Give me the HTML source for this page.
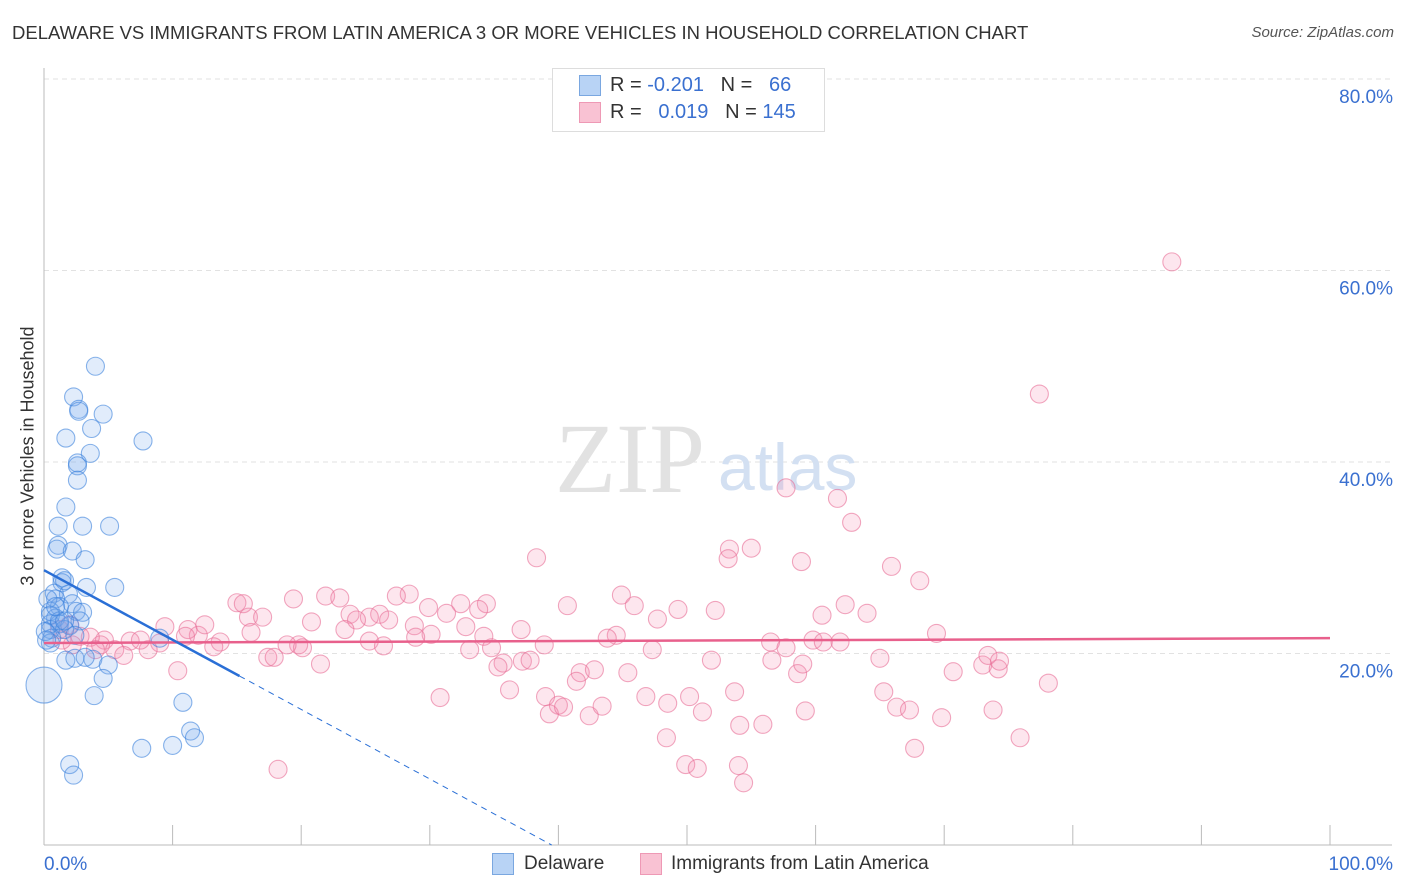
<!DOCTYPE html>
<html><head><meta charset="utf-8">
<style>
body{margin:0;background:#fff;font-family:"Liberation Sans",sans-serif;}
#wrap{position:relative;width:1406px;height:892px;overflow:hidden;}
.t{position:absolute;white-space:nowrap;}
</style></head>
<body>
<div id="wrap">
<div class="t" style="left:12px;top:22px;font-size:18.5px;color:#333;">DELAWARE VS IMMIGRANTS FROM LATIN AMERICA 3 OR MORE VEHICLES IN HOUSEHOLD CORRELATION CHART</div>
<div class="t" style="right:12px;top:24px;font-size:15px;color:#555;font-style:italic;">Source: ZipAtlas.com</div>
<div class="t" style="left:28px;top:456px;font-size:18px;color:#333;transform:translate(-50%,-50%) rotate(-90deg);">3 or more Vehicles in Household</div>
<svg id="plot" width="1406" height="892" style="position:absolute;left:0;top:0"></svg>
</div>
<script>
const yTicks=[20,40,60,80];
const yTickLabels=["20.0%","40.0%","60.0%","80.0%"];
const xTickLabels=["0.0%","100.0%"];
const blueX=[4.0,2.3,2.7,2.7,4.6,3.7,1.7,7.7,3.6,2.6,2.6,2.6,1.7,1.1,3.0,5.1,1.1,1.0,2.2,3.2,1.4,1.4,1.6,3.3,5.5,0.8,1.9,0.9,2.2,2.5,1.2,0.5,3.0,0.9,0.5,1.2,2.0,0.5,1.6,0.6,0.5,2.8,1.7,2.4,3.8,3.2,5.0,4.6,3.9,10.8,11.4,11.7,7.6,10.0,2.0,2.3,0.0,0.3,0.5,1.2,0.1,0.2,9.0,1.6,2.4,0.9];
const blueY=[50.0,46.8,45.5,45.3,45.0,43.5,42.5,42.2,40.9,39.9,39.6,38.1,35.3,33.3,33.3,33.3,31.3,30.9,30.7,29.8,27.9,27.4,27.6,26.9,26.9,26.3,26.2,25.7,25.2,24.4,24.9,24.4,24.3,23.7,23.1,23.1,22.9,22.5,22.5,21.6,21.1,23.4,19.3,19.5,19.4,19.6,18.8,17.4,15.6,14.9,11.9,11.2,10.1,10.4,8.4,7.3,16.7,25.7,24.0,23.4,22.3,21.4,21.6,23.4,21.9,24.9];
const blueR=[9,9,9,9,9,9,9,9,9,9,9,9,9,9,9,9,9,9,9,9,9,9,9,9,9,9,9,9,9,9,9,9,9,9,9,9,9,9,9,9,9,9,9,9,9,9,9,9,9,9,9,9,9,9,9,9,18,9,9,9,9,9,9,9,9,9];
const pinkPx=[[1172,262],[1040,394],[786,488],[837,498],[852,522],[537,558],[729,549],[751,548],[728,559],[801,562],[892,566],[920,581],[621,595],[568,606],[634,606],[487,604],[479,609],[461,604],[845,605],[867,613],[822,615],[715,610],[678,609],[658,619],[237,603],[243,604],[248,617],[262,617],[293,599],[325,596],[340,598],[409,594],[396,596],[380,614],[370,617],[350,614],[356,620],[345,630],[428,608],[446,613],[389,620],[415,626],[431,634],[466,627],[484,636],[416,637],[521,630],[544,645],[616,635],[607,638],[652,650],[936,633],[770,642],[813,640],[823,642],[786,648],[880,658],[712,660],[772,660],[797,674],[628,673],[580,673],[594,670],[576,681],[545,697],[510,690],[522,661],[530,660],[503,663],[498,667],[492,648],[470,650],[370,641],[384,646],[298,645],[303,648],[287,645],[268,657],[274,657],[321,664],[311,622],[251,632],[220,642],[198,635],[214,647],[188,630],[165,627],[185,636],[160,643],[130,641],[105,640],[100,645],[90,637],[80,636],[72,645],[62,640],[115,650],[124,655],[148,650],[178,671],[440,698],[559,705],[549,714],[589,716],[564,707],[602,706],[646,697],[668,703],[690,697],[702,712],[740,725],[763,724],[667,738],[686,765],[697,768],[739,766],[743,783],[805,711],[884,692],[897,707],[910,710],[941,718],[993,710],[953,672],[983,665],[998,669],[988,655],[999,661],[1048,683],[1020,738],[915,748],[278,769],[803,664],[735,692],[840,642],[60,630],[70,625],[95,650],[140,640],[205,625]];
const pinkX=pinkPx.map(p=>+((p[0]-44)/12.86).toFixed(1));
const pinkY=pinkPx.map(p=>+((845-p[1])/9.575).toFixed(1));
const blueTrend=[28.7,-0.727]; const blueSolidEnd=15.2;
const pinkTrend=[21.1,0.005];

const X0=44,X1=1330,Y0=845,PX=(X1-X0)/100,PY=191.5/20;
const xs=v=>X0+v*PX, ys=v=>Y0-v*PY;
const svg=document.getElementById('plot');const NS='http://www.w3.org/2000/svg';
function mk(t,a){const e=document.createElementNS(NS,t);for(const k in a)e.setAttribute(k,a[k]);svg.appendChild(e);return e;}
yTicks.forEach((v,i)=>{
 const g=mk('line',{x1:X0,x2:1392,y1:ys(v),y2:ys(v),stroke:'#e2e2e2','stroke-dasharray':'5,4'});
 
 
 const t=mk('text',{x:1393,y:ys(v)+24,'text-anchor':'end','font-size':19,fill:'#3a70d0','font-family':'Liberation Sans'});t.textContent=yTickLabels[i];
 
 
});
const ax=mk('line',{x1:X0,x2:X0,y1:68,y2:Y0,stroke:'#bbb'});


const bx=mk('line',{x1:X0,x2:1392,y1:Y0,y2:Y0,stroke:'#bbb'});


for(let i=0;i<=10;i++){const l=mk('line',{x1:xs(i*10),x2:xs(i*10),y1:Y0,y2:Y0-20,stroke:'#bbb'});
 
 }
[[0,'start',44],[1,'end',1393]].forEach(([i,a,x])=>{const t=mk('text',{x:x,y:870,'text-anchor':a,'font-size':19,fill:'#3a70d0','font-family':'Liberation Sans'});t.textContent=xTickLabels[i];
 
 });
const w1=mk('text',{x:555,y:492,'font-size':100,fill:'#e2e2e2','font-family':'Liberation Serif'});w1.textContent='ZIP';


const w2=mk('text',{x:718,y:490,'font-size':66,fill:'#d3e0f2','font-family':'Liberation Sans'});w2.textContent='atlas';


pinkX.forEach((x,i)=>{const c=mk('circle',{cx:xs(x),cy:ys(pinkY[i]),r:9,fill:'rgba(244,143,177,0.22)',stroke:'rgba(232,110,150,0.6)','stroke-width':1.1});
 
 });
blueX.forEach((x,i)=>{const c=mk('circle',{cx:xs(x),cy:ys(blueY[i]),r:blueR[i],fill:'rgba(120,170,235,0.22)',stroke:'rgba(60,130,220,0.6)','stroke-width':1.1});
 
 });
const pl=mk('line',{x1:xs(0),y1:ys(pinkTrend[0]),x2:xs(100),y2:ys(pinkTrend[0]+pinkTrend[1]*100),stroke:'#e8608c','stroke-width':2.5});


const bl=mk('line',{x1:xs(0),y1:ys(blueTrend[0]),x2:xs(blueSolidEnd),y2:ys(blueTrend[0]+blueTrend[1]*blueSolidEnd),stroke:'#2a6fd6','stroke-width':2.5});


const xz=-blueTrend[0]/blueTrend[1];
const bd=mk('line',{x1:xs(blueSolidEnd),y1:ys(blueTrend[0]+blueTrend[1]*blueSolidEnd),x2:xs(xz),y2:ys(0),stroke:'#2a6fd6','stroke-width':1,'stroke-dasharray':'6,5'});


</script>
<div class="t" style="left:552px;top:68px;width:271px;height:62px;border:1px solid #ddd;background:#fff;"></div>
<div class="t" style="left:579px;top:75px;width:20px;height:19px;background:#b8d3f5;border:1px solid #7aa7e0;"></div>
<div class="t" style="left:579px;top:102px;width:20px;height:19px;background:#f9c2d3;border:1px solid #ee99b5;"></div>
<div class="t" style="left:610px;top:74px;font-size:20px;color:#333;">R = <span style="color:#3a70d0">-0.201</span>&nbsp;&nbsp;&nbsp;N = &nbsp;&nbsp;<span style="color:#3a70d0">66</span></div>
<div class="t" style="left:610px;top:101px;font-size:20px;color:#333;">R = &nbsp;&nbsp;<span style="color:#3a70d0">0.019</span>&nbsp;&nbsp;&nbsp;N = <span style="color:#3a70d0">145</span></div>
<div class="t" style="left:492px;top:853px;width:20px;height:20px;background:#b8d3f5;border:1px solid #7aa7e0;"></div>
<div class="t" style="left:524px;top:853px;font-size:19px;color:#333;">Delaware</div>
<div class="t" style="left:640px;top:853px;width:20px;height:20px;background:#f9c2d3;border:1px solid #ee99b5;"></div>
<div class="t" style="left:671px;top:853px;font-size:19px;color:#333;">Immigrants from Latin America</div>
</body></html>
